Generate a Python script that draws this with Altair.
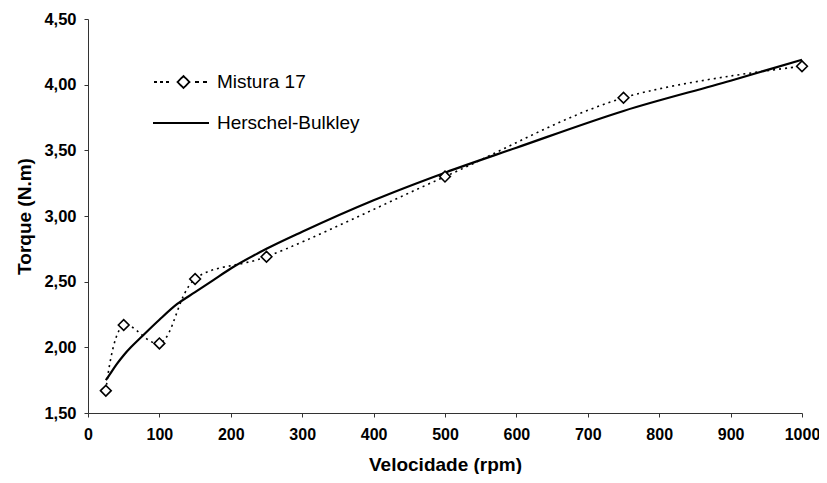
import altair as alt
import pandas as pd

# Measured data (Mistura 17)
vel_pts = [25, 50, 100, 150, 250, 500, 750, 1000]
torque_pts = [1.67, 2.17, 2.03, 2.52, 2.69, 3.30, 3.90, 4.14]

# Herschel-Bulkley curve
vel_hb = [25, 30, 40, 50, 60, 75, 100, 125, 150, 175, 200, 250, 300, 400, 500, 600, 750, 900, 1000]
torque_hb = [1.75, 1.79, 1.87, 1.94, 2.00, 2.08, 2.21, 2.33, 2.42, 2.51, 2.60, 2.75, 2.88, 3.12, 3.33, 3.52, 3.80, 4.03, 4.19]

x_ticks = [0, 100, 200, 300, 400, 500, 600, 700, 800, 900, 1000]
y_ticks = [1.5, 2.0, 2.5, 3.0, 3.5, 4.0, 4.5]

series = ["Mistura 17", "Herschel-Bulkley"]

df_pts = pd.DataFrame({"vel": vel_pts, "torque": torque_pts, "serie": series[0]})
df_hb = pd.DataFrame({"vel": vel_hb, "torque": torque_hb, "serie": series[1]})

FONT = "Liberation Sans"

x_enc = alt.X(
    "vel:Q",
    scale=alt.Scale(domain=[0, 1000], nice=False),
    axis=alt.Axis(
        values=x_ticks,
        format="d",
        title="Velocidade (rpm)",
        grid=False,
        labelFontSize=16,
        labelFontWeight="bold",
        labelFont=FONT,
        labelColor="black",
        titleFontSize=19,
        titleFont=FONT,
        titleFontWeight="bold",
        titleColor="black",
        titlePadding=13,
        labelPadding=9,
        tickSize=4,
        domainColor="#333333",
        tickColor="#333333",
        labelFlush=False,
    ),
)
y_enc = alt.Y(
    "torque:Q",
    scale=alt.Scale(domain=[1.5, 4.5], nice=False, zero=False),
    axis=alt.Axis(
        values=y_ticks,
        labelExpr="replace(format(datum.value, '.2f'), '.', ',')",
        title="Torque (N.m)",
        grid=False,
        labelFontSize=16.5,
        labelFontWeight="bold",
        labelFont=FONT,
        labelColor="black",
        titleFontSize=19,
        titleFont=FONT,
        titleFontWeight="bold",
        titleColor="black",
        titlePadding=9,
        labelPadding=8,
        tickSize=4,
        domainColor="#333333",
        tickColor="#333333",
    ),
)

mistura_path = (
    "M-4.6,0H-4.3M-4.0,0H-3.7M-3.4,0H-3.1"
    "M-2.25,0L-1.65,-0.6L-1.05,0L-1.65,0.6Z"
    "M-0.5,0H-0.1M0.3,0H0.7"
)
hb_path = "M-4.7,0H0.9"

common_legend = dict(
    orient="none",
    title=None,
    symbolSize=400,
    symbolStrokeWidth=1.8,
    symbolStrokeColor="black",
    symbolFillColor="transparent",
    symbolDash=[1, 0],
    labelFontSize=19,
    labelFont=FONT,
    labelColor="black",
    labelOffset=6,
)

# invisible carriers that only produce the two legend entries
carrier_a = alt.Chart(df_pts).mark_line(opacity=0).encode(
    x=x_enc,
    y=y_enc,
    color=alt.Color(
        "serie:N",
        scale=alt.Scale(domain=[series[0]], range=["black"]),
        legend=alt.Legend(legendX=101, legendY=52, symbolType=mistura_path, **common_legend),
    ),
)
carrier_b = alt.Chart(df_hb).mark_line(opacity=0).encode(
    x="vel:Q",
    y="torque:Q",
    strokeDash=alt.StrokeDash(
        "serie:N",
        scale=alt.Scale(domain=[series[1]], range=[[1, 0]]),
        legend=alt.Legend(legendX=101, legendY=93, symbolType=hb_path, **common_legend),
    ),
)

dotted = alt.Chart(df_pts).mark_line(
    color="black", strokeDash=[2, 4], strokeWidth=1.6, interpolate="catmull-rom"
).encode(x="vel:Q", y="torque:Q")

solid = alt.Chart(df_hb).mark_line(
    color="black", strokeWidth=2.2, interpolate="monotone"
).encode(x="vel:Q", y="torque:Q")

points = alt.Chart(df_pts).mark_point(
    shape="diamond", size=115, filled=True, fill="white", stroke="black", strokeWidth=1.6, opacity=1
).encode(x="vel:Q", y="torque:Q")

chart = (
    alt.layer(carrier_a, carrier_b, dotted, solid, points)
    .properties(
        width=714,
        height=394,
        autosize=alt.AutoSizeParams(type="none"),
        padding={"left": 80, "top": 11, "right": 17, "bottom": 61},
        background="white",
    )
    .configure_view(stroke=None)
)

chart.save("out.html", embed_options={"renderer": "svg", "actions": False})
